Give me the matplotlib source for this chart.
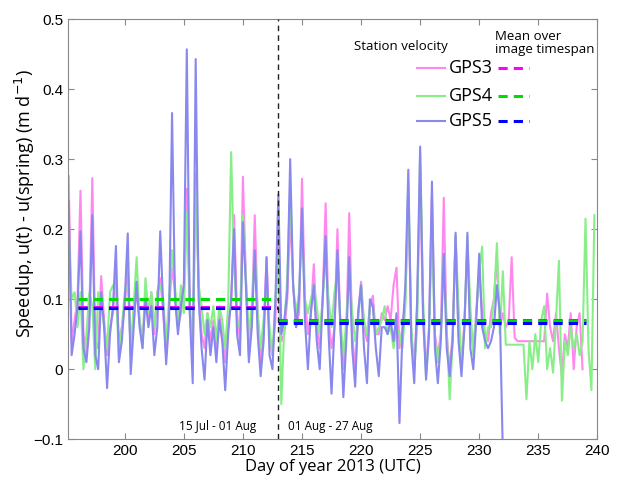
import numpy as np
import matplotlib
matplotlib.use("Agg")
import matplotlib.pyplot as plt

# ── data (4 samples per day starting at day 195.25) ──
t0 = 195.25
dt = 0.25

gps3 = [
    0.276, 0.04, 0.07,               # 195
    0.10, 0.255, 0.05, 0.02,         # 196
    0.08, 0.273, 0.04, 0.03,         # 197
    0.133, 0.07, 0.02, 0.06,         # 198
    0.08, 0.14, 0.04, 0.06,          # 199
    0.09, 0.15, 0.02, 0.08,          # 200
    0.11, 0.07, 0.04, 0.11,          # 201
    0.07, 0.11, 0.05, 0.11,          # 202
    0.13, 0.08, 0.02, 0.09,          # 203
    0.145, 0.11, 0.06, 0.08,         # 204
    0.12, 0.258, 0.10, 0.01,         # 205
    0.28, 0.12, 0.05, 0.03,          # 206
    0.08, 0.04, 0.07, 0.03,          # 207
    0.08, 0.05, 0.01, 0.07,          # 208
    0.09, 0.22, 0.08, 0.04,          # 209
    0.275, 0.13, 0.02, 0.07,         # 210
    0.22, 0.08, 0.01, 0.05,          # 211
    0.16, 0.04, 0.02, 0.07,          # 212
    0.20, 0.04, 0.05, 0.10,          # 213
    0.22, 0.12, 0.06, 0.08,          # 214
    0.272, 0.10, 0.05, 0.08,         # 215
    0.15, 0.06, 0.03, 0.10,          # 216
    0.237, 0.07, 0.03, 0.06,         # 217
    0.20, 0.06, 0.0, 0.05,           # 218
    0.223, 0.05, 0.0, 0.08,          # 219
    0.125, 0.06, 0.04, 0.09,         # 220
    0.105, 0.05, 0.05, 0.08,         # 221
    0.07, 0.09, 0.07, 0.12,          # 222
    0.145, 0.03, 0.06, 0.10,         # 223
    0.25, 0.05, 0.0, 0.09,           # 224
    0.28, 0.07, 0.0, 0.06,           # 225
    0.25, 0.05, 0.02, 0.05,          # 226
    0.245, 0.05, 0.0, 0.05,          # 227
    0.19, 0.05, 0.0, 0.07,           # 228
    0.175, 0.06, 0.03, 0.08,         # 229
    0.14, 0.08, 0.05, 0.04,          # 230
    0.08, 0.10, 0.16, 0.06,          # 231
    0.08, 0.06, 0.07, 0.16,          # 232
    0.045, 0.04, 0.04, 0.04,         # 233
    0.04, 0.04, 0.04, 0.04,          # 234
    0.04, 0.04, 0.04, 0.108,         # 235
    0.06, 0.04, 0.08, 0.03,          # 236
    -0.01, 0.05, 0.03, 0.08,         # 237
    0.0, 0.06, 0.08, 0.0,            # 238
]

gps4 = [
    0.20, 0.10, 0.11,                # 195
    0.06, 0.11, 0.0, 0.05,           # 196
    0.11, 0.09, 0.0, 0.11,           # 197
    0.10, 0.06, 0.03, 0.11,          # 198
    0.12, 0.11, 0.02, 0.06,          # 199
    0.11, 0.12, 0.03, 0.09,          # 200
    0.16, 0.07, 0.03, 0.13,          # 201
    0.08, 0.11, 0.06, 0.11,          # 202
    0.12, 0.10, 0.04, 0.10,          # 203
    0.17, 0.12, 0.06, 0.12,          # 204
    0.08, 0.225, 0.08, 0.03,         # 205
    0.26, 0.12, 0.09, 0.05,          # 206
    0.08, 0.06, 0.09, 0.04,          # 207
    0.09, 0.07, 0.03, 0.09,          # 208
    0.31, 0.15, 0.07, 0.06,          # 209
    0.22, 0.13, 0.05, 0.09,          # 210
    0.17, 0.08, 0.03, 0.07,          # 211
    0.12, 0.06, 0.02, 0.10,          # 212
    0.17, -0.05, 0.06, 0.13,         # 213
    0.26, 0.12, 0.08, 0.11,          # 214
    0.20, 0.10, 0.08, 0.10,          # 215
    0.12, 0.09, 0.05, 0.10,          # 216
    0.16, 0.10, 0.06, 0.11,          # 217
    0.14, 0.07, 0.02, 0.07,          # 218
    0.14, 0.08, 0.04, 0.07,          # 219
    0.12, 0.07, 0.05, 0.09,          # 220
    0.09, 0.05, 0.06, 0.07,          # 221
    0.09, 0.05, 0.06, 0.03,          # 222
    0.06, 0.05, 0.03, 0.09,          # 223
    0.27, 0.06, 0.0, 0.06,           # 224
    0.31, 0.10, -0.01, 0.05,         # 225
    0.20, 0.04, 0.01, 0.05,          # 226
    0.16, 0.06, -0.043, 0.04,        # 227
    0.19, 0.09, 0.01, 0.06,          # 228
    0.19, 0.09, 0.02, 0.08,          # 229
    0.14, 0.175, 0.03, 0.06,         # 230
    0.06, 0.10, 0.18, 0.05,          # 231
    0.14, 0.035, 0.035, 0.035,       # 232
    0.035, 0.035, 0.035, 0.035,      # 233
    -0.043, 0.04, 0.0, 0.05,         # 234
    0.01, 0.07, 0.09, 0.0,           # 235
    0.03, -0.005, 0.07, 0.155,       # 236
    -0.045, 0.04, 0.02, 0.06,        # 237
    0.03, 0.05, 0.02, 0.04,          # 238
    0.215, 0.03, -0.03, 0.22,        # 239
]

gps5 = [
    0.24, 0.02, 0.05,                # 195
    0.09, 0.197, 0.03, 0.01,         # 196
    0.06, 0.22, 0.02, 0.0,           # 197
    0.11, 0.06, -0.027, 0.05,        # 198
    0.09, 0.176, 0.01, 0.04,         # 199
    0.10, 0.194, -0.007, 0.06,       # 200
    0.125, 0.06, 0.03, 0.10,         # 201
    0.06, 0.09, 0.02, 0.06,          # 202
    0.197, 0.09, 0.007, 0.07,        # 203
    0.366, 0.10, 0.05, 0.09,         # 204
    0.12, 0.457, 0.08, -0.02,        # 205
    0.443, 0.10, 0.03, -0.015,       # 206
    0.07, 0.02, 0.06, 0.01,          # 207
    0.07, 0.04, -0.03, 0.05,         # 208
    0.10, 0.20, 0.05, 0.02,          # 209
    0.21, 0.12, 0.01, 0.06,          # 210
    0.17, 0.05, -0.01, 0.04,         # 211
    0.16, 0.02, 0.0, 0.10,           # 212
    0.25, 0.05, 0.07, 0.11,          # 213
    0.30, 0.12, 0.06, 0.10,          # 214
    0.23, 0.07, 0.0, 0.08,           # 215
    0.12, 0.04, 0.0, 0.10,           # 216
    0.19, 0.05, -0.035, 0.06,        # 217
    0.17, 0.06, -0.04, 0.04,         # 218
    0.16, 0.03, -0.025, 0.08,        # 219
    0.12, 0.03, -0.02, 0.10,         # 220
    0.09, 0.03, -0.01, 0.06,         # 221
    0.06, 0.05, 0.07, 0.04,          # 222
    0.08, -0.077, 0.05, 0.12,        # 223
    0.285, 0.04, -0.02, 0.10,        # 224
    0.318, 0.08, -0.015, 0.05,       # 225
    0.268, 0.03, -0.02, 0.04,        # 226
    0.165, 0.03, -0.01, 0.04,        # 227
    0.195, 0.04, -0.01, 0.06,        # 228
    0.195, 0.03, 0.0, 0.07,          # 229
    0.165, 0.06, 0.04, 0.03,         # 230
    0.04, 0.06, 0.12, 0.08,          # 231
    -0.12,                           # 232
]

# mean over image timespan, before / after 1 Aug
split_day = 213.0
mean_start = 196.0
mean_end = 239.0
gps3_means = [0.089, 0.071]
gps4_means = [0.100, 0.069]
gps5_means = [0.088, 0.066]

line_colors = {"GPS3": "#ff88ee", "GPS4": "#88ee88", "GPS5": "#8888ee"}
mean_colors = {"GPS3": "#ff00ff", "GPS4": "#00dd00", "GPS5": "#0000ff"}

# ── figure ─────────────────────────────────────────────────────────────────────
fig = plt.figure(figsize=(6.19, 4.8), dpi=100)
ax = fig.add_axes([0.110, 0.085, 0.855, 0.875])

series = {"GPS3": gps3, "GPS4": gps4, "GPS5": gps5}
for name, vals in series.items():
    t = t0 + dt * np.arange(len(vals))
    ax.plot(t, vals, color=line_colors[name], lw=1.5, zorder=2)

means = {"GPS3": gps3_means, "GPS4": gps4_means, "GPS5": gps5_means}
for name, (m1, m2) in means.items():
    ax.plot([mean_start, split_day], [m1, m1], color=mean_colors[name],
            lw=2.2, ls=(0, (3, 2)), zorder=4)
    ax.plot([split_day, mean_end], [m2, m2], color=mean_colors[name],
            lw=2.2, ls=(0, (3, 2)), zorder=4)

ax.axvline(split_day, color="#222222", lw=1, ls=(0, (4, 3)), zorder=5)

ax.set_xlim(195.2, 240)
ax.set_ylim(-0.1, 0.5)
ax.set_xticks(range(200, 241, 5))
ax.set_yticks([-0.1, 0, 0.1, 0.2, 0.3, 0.4, 0.5])
ax.set_yticklabels(["\u22120.1", "0", "0.1", "0.2", "0.3", "0.4", "0.5"])
ax.tick_params(direction="in", top=True, right=True, length=4,
               labelsize=11, color="#888888")
for lab in ax.get_xticklabels() + ax.get_yticklabels():
    lab.set_family("Liberation Sans")
for s in ax.spines.values():
    s.set_color("#888888")

ax.set_xlabel("Day of year 2013 (UTC)", fontsize=12, family="Open Sans",
              labelpad=1)
ax.set_ylabel("Speedup, u(t) - u(spring) (m d$^{-1}$)", fontsize=13,
              family="Open Sans")
ax.yaxis.set_label_coords(-0.058, 0.56)

ax.text(207.9, -0.082, "15 Jul - 01 Aug", fontsize=8.5, family="Open Sans",
        ha="center", va="center")
ax.text(217.4, -0.082, "01 Aug - 27 Aug", fontsize=8.5, family="Open Sans",
        ha="center", va="center")

# hand-made legend
ax.text(223.4, 0.461, "Station velocity", fontsize=9.5, family="Open Sans",
        ha="center", va="center")
ax.text(231.3, 0.466, "Mean over\nimage timespan", fontsize=9.5,
        family="Open Sans", ha="left", va="center", linespacing=1.0)
legend_y = [0.43, 0.39, 0.354]
for name, yy in zip(["GPS3", "GPS4", "GPS5"], legend_y):
    ax.plot([224.7, 227.1], [yy, yy], color=line_colors[name], lw=1.5)
    ax.text(227.4, yy, name, fontsize=13, family="Open Sans", ha="left",
            va="center")
    ax.plot([231.6, 234.2], [yy, yy], color=mean_colors[name], lw=2.2,
            ls=(0, (3, 2)))

fig.savefig("out.png", dpi=100)
